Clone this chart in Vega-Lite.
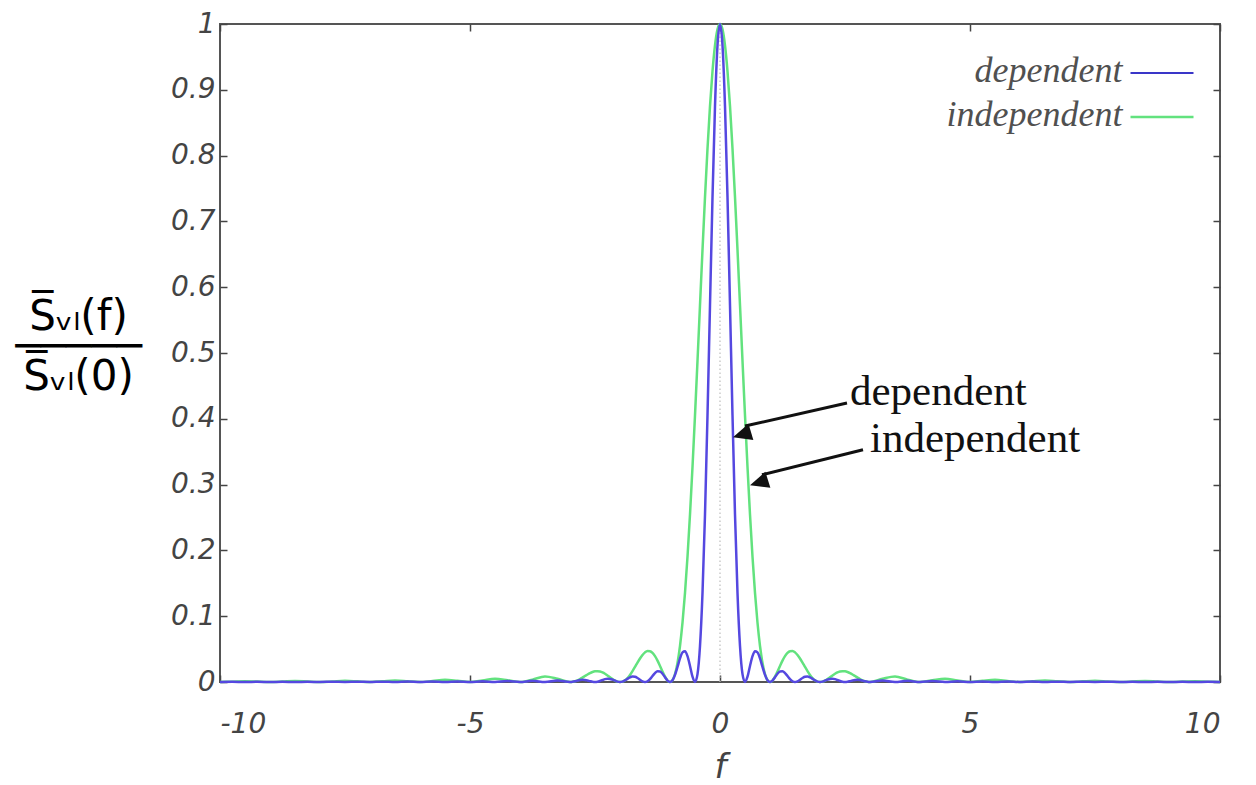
{
  "$schema": "https://vega.github.io/schema/vega-lite/v6.json",
  "width": 1000,
  "height": 658,
  "autosize": {"type": "none"},
  "padding": {"left": 220, "top": 24, "right": 36, "bottom": 103},
  "background": "white",
  "config": {
    "view": {"stroke": "#555", "strokeWidth": 2},
    "axis": {
      "domain": false,
      "grid": false,
      "tickColor": "#444",
      "tickWidth": 1.5,
      "labelFont": "DejaVu Sans",
      "labelFontStyle": "italic",
      "labelFontSize": 28,
      "labelColor": "#444"
    }
  },
  "datasets": {
    "curves": [
      {"f": -10, "dependent": 0, "independent": 0},
      {"f": -9.75, "dependent": 0.00027, "independent": 0.00053},
      {"f": -9.5, "dependent": 0, "independent": 0.00112},
      {"f": -9.25, "dependent": 0.0003, "independent": 0.00059},
      {"f": -9, "dependent": 0, "independent": 0},
      {"f": -8.75, "dependent": 0.00033, "independent": 0.00066},
      {"f": -8.5, "dependent": 0, "independent": 0.0014},
      {"f": -8.25, "dependent": 0.00037, "independent": 0.00074},
      {"f": -8, "dependent": 0, "independent": 0},
      {"f": -7.75, "dependent": 0.00042, "independent": 0.00084},
      {"f": -7.5, "dependent": 0, "independent": 0.0018},
      {"f": -7.25, "dependent": 0.00048, "independent": 0.00096},
      {"f": -7, "dependent": 0, "independent": 0},
      {"f": -6.75, "dependent": 0.00056, "independent": 0.00111},
      {"f": -6.5, "dependent": 0, "independent": 0.0024},
      {"f": -6.25, "dependent": 0.00065, "independent": 0.0013},
      {"f": -6, "dependent": 0, "independent": 0},
      {"f": -5.75, "dependent": 0.00077, "independent": 0.00153},
      {"f": -5.5, "dependent": 0, "independent": 0.00335},
      {"f": -5.25, "dependent": 0.00092, "independent": 0.00184},
      {"f": -5, "dependent": 0, "independent": 0},
      {"f": -4.75, "dependent": 0.00112, "independent": 0.00225},
      {"f": -4.5, "dependent": 0, "independent": 0.005},
      {"f": -4.25, "dependent": 0.0014, "independent": 0.0028},
      {"f": -4, "dependent": 0, "independent": 0},
      {"f": -3.75, "dependent": 0.0018, "independent": 0.0036},
      {"f": -3.5, "dependent": 0, "independent": 0.00827},
      {"f": -3.25, "dependent": 0.0024, "independent": 0.0048},
      {"f": -3, "dependent": 0, "independent": 0},
      {"f": -2.95, "dependent": 0.00028, "independent": 0.00028},
      {"f": -2.9, "dependent": 0.00104, "independent": 0.00115},
      {"f": -2.85, "dependent": 0.00204, "independent": 0.00257},
      {"f": -2.8, "dependent": 0.00292, "independent": 0.00446},
      {"f": -2.75, "dependent": 0.00335, "independent": 0.0067},
      {"f": -2.7, "dependent": 0.00314, "independent": 0.0091},
      {"f": -2.65, "dependent": 0.00236, "independent": 0.01145},
      {"f": -2.6, "dependent": 0.00129, "independent": 0.01356},
      {"f": -2.55, "dependent": 0.00037, "independent": 0.0152},
      {"f": -2.5, "dependent": 0, "independent": 0.01621},
      {"f": -2.45, "dependent": 0.0004, "independent": 0.01647},
      {"f": -2.4, "dependent": 0.00152, "independent": 0.01591},
      {"f": -2.35, "dependent": 0.003, "independent": 0.01457},
      {"f": -2.3, "dependent": 0.00433, "independent": 0.01254},
      {"f": -2.25, "dependent": 0.005, "independent": 0.01001},
      {"f": -2.2, "dependent": 0.00473, "independent": 0.00723},
      {"f": -2.15, "dependent": 0.00359, "independent": 0.00452},
      {"f": -2.1, "dependent": 0.00198, "independent": 0.00219},
      {"f": -2.05, "dependent": 0.00058, "independent": 0.00059},
      {"f": -2, "dependent": 0, "independent": 0},
      {"f": -1.95, "dependent": 0.00064, "independent": 0.00065},
      {"f": -1.9, "dependent": 0.00242, "independent": 0.00268},
      {"f": -1.85, "dependent": 0.00484, "independent": 0.0061},
      {"f": -1.8, "dependent": 0.00707, "independent": 0.0108},
      {"f": -1.75, "dependent": 0.00827, "independent": 0.01654},
      {"f": -1.7, "dependent": 0.00793, "independent": 0.02295},
      {"f": -1.65, "dependent": 0.00609, "independent": 0.02955},
      {"f": -1.6, "dependent": 0.00342, "independent": 0.0358},
      {"f": -1.55, "dependent": 0.00101, "independent": 0.04114},
      {"f": -1.5, "dependent": 0, "independent": 0.04503},
      {"f": -1.45, "dependent": 0.00115, "independent": 0.04701},
      {"f": -1.4, "dependent": 0.00446, "independent": 0.04676},
      {"f": -1.35, "dependent": 0.0091, "independent": 0.04414},
      {"f": -1.3, "dependent": 0.01356, "independent": 0.03924},
      {"f": -1.25, "dependent": 0.01621, "independent": 0.03242},
      {"f": -1.2, "dependent": 0.01591, "independent": 0.02431},
      {"f": -1.15, "dependent": 0.01254, "independent": 0.01579},
      {"f": -1.1, "dependent": 0.00723, "independent": 0.008},
      {"f": -1.05, "dependent": 0.00219, "independent": 0.00225},
      {"f": -1, "dependent": 0, "independent": 0},
      {"f": -0.95, "dependent": 0.00268, "independent": 0.00275},
      {"f": -0.9, "dependent": 0.0108, "independent": 0.01194},
      {"f": -0.85, "dependent": 0.02295, "independent": 0.0289},
      {"f": -0.8, "dependent": 0.0358, "independent": 0.0547},
      {"f": -0.75, "dependent": 0.04503, "independent": 0.09006},
      {"f": -0.7, "dependent": 0.04676, "independent": 0.13534},
      {"f": -0.65, "dependent": 0.03924, "independent": 0.19039},
      {"f": -0.6, "dependent": 0.02431, "independent": 0.25457},
      {"f": -0.55, "dependent": 0.008, "independent": 0.32675},
      {"f": -0.5, "dependent": 0, "independent": 0.40528},
      {"f": -0.45, "dependent": 0.01194, "independent": 0.48811},
      {"f": -0.4, "dependent": 0.0547, "independent": 0.57279},
      {"f": -0.35, "dependent": 0.13534, "independent": 0.65664},
      {"f": -0.3, "dependent": 0.25457, "independent": 0.73684},
      {"f": -0.25, "dependent": 0.40528, "independent": 0.81057},
      {"f": -0.2, "dependent": 0.57279, "independent": 0.87514},
      {"f": -0.15, "dependent": 0.73684, "independent": 0.92814},
      {"f": -0.1, "dependent": 0.87514, "independent": 0.96753},
      {"f": -0.05, "dependent": 0.96753, "independent": 0.99181},
      {"f": 0, "dependent": 1, "independent": 1},
      {"f": 0.05, "dependent": 0.96753, "independent": 0.99181},
      {"f": 0.1, "dependent": 0.87514, "independent": 0.96753},
      {"f": 0.15, "dependent": 0.73684, "independent": 0.92814},
      {"f": 0.2, "dependent": 0.57279, "independent": 0.87514},
      {"f": 0.25, "dependent": 0.40528, "independent": 0.81057},
      {"f": 0.3, "dependent": 0.25457, "independent": 0.73684},
      {"f": 0.35, "dependent": 0.13534, "independent": 0.65664},
      {"f": 0.4, "dependent": 0.0547, "independent": 0.57279},
      {"f": 0.45, "dependent": 0.01194, "independent": 0.48811},
      {"f": 0.5, "dependent": 0, "independent": 0.40528},
      {"f": 0.55, "dependent": 0.008, "independent": 0.32675},
      {"f": 0.6, "dependent": 0.02431, "independent": 0.25457},
      {"f": 0.65, "dependent": 0.03924, "independent": 0.19039},
      {"f": 0.7, "dependent": 0.04676, "independent": 0.13534},
      {"f": 0.75, "dependent": 0.04503, "independent": 0.09006},
      {"f": 0.8, "dependent": 0.0358, "independent": 0.0547},
      {"f": 0.85, "dependent": 0.02295, "independent": 0.0289},
      {"f": 0.9, "dependent": 0.0108, "independent": 0.01194},
      {"f": 0.95, "dependent": 0.00268, "independent": 0.00275},
      {"f": 1, "dependent": 0, "independent": 0},
      {"f": 1.05, "dependent": 0.00219, "independent": 0.00225},
      {"f": 1.1, "dependent": 0.00723, "independent": 0.008},
      {"f": 1.15, "dependent": 0.01254, "independent": 0.01579},
      {"f": 1.2, "dependent": 0.01591, "independent": 0.02431},
      {"f": 1.25, "dependent": 0.01621, "independent": 0.03242},
      {"f": 1.3, "dependent": 0.01356, "independent": 0.03924},
      {"f": 1.35, "dependent": 0.0091, "independent": 0.04414},
      {"f": 1.4, "dependent": 0.00446, "independent": 0.04676},
      {"f": 1.45, "dependent": 0.00115, "independent": 0.04701},
      {"f": 1.5, "dependent": 0, "independent": 0.04503},
      {"f": 1.55, "dependent": 0.00101, "independent": 0.04114},
      {"f": 1.6, "dependent": 0.00342, "independent": 0.0358},
      {"f": 1.65, "dependent": 0.00609, "independent": 0.02955},
      {"f": 1.7, "dependent": 0.00793, "independent": 0.02295},
      {"f": 1.75, "dependent": 0.00827, "independent": 0.01654},
      {"f": 1.8, "dependent": 0.00707, "independent": 0.0108},
      {"f": 1.85, "dependent": 0.00484, "independent": 0.0061},
      {"f": 1.9, "dependent": 0.00242, "independent": 0.00268},
      {"f": 1.95, "dependent": 0.00064, "independent": 0.00065},
      {"f": 2, "dependent": 0, "independent": 0},
      {"f": 2.05, "dependent": 0.00058, "independent": 0.00059},
      {"f": 2.1, "dependent": 0.00198, "independent": 0.00219},
      {"f": 2.15, "dependent": 0.00359, "independent": 0.00452},
      {"f": 2.2, "dependent": 0.00473, "independent": 0.00723},
      {"f": 2.25, "dependent": 0.005, "independent": 0.01001},
      {"f": 2.3, "dependent": 0.00433, "independent": 0.01254},
      {"f": 2.35, "dependent": 0.003, "independent": 0.01457},
      {"f": 2.4, "dependent": 0.00152, "independent": 0.01591},
      {"f": 2.45, "dependent": 0.0004, "independent": 0.01647},
      {"f": 2.5, "dependent": 0, "independent": 0.01621},
      {"f": 2.55, "dependent": 0.00037, "independent": 0.0152},
      {"f": 2.6, "dependent": 0.00129, "independent": 0.01356},
      {"f": 2.65, "dependent": 0.00236, "independent": 0.01145},
      {"f": 2.7, "dependent": 0.00314, "independent": 0.0091},
      {"f": 2.75, "dependent": 0.00335, "independent": 0.0067},
      {"f": 2.8, "dependent": 0.00292, "independent": 0.00446},
      {"f": 2.85, "dependent": 0.00204, "independent": 0.00257},
      {"f": 2.9, "dependent": 0.00104, "independent": 0.00115},
      {"f": 2.95, "dependent": 0.00028, "independent": 0.00028},
      {"f": 3, "dependent": 0, "independent": 0},
      {"f": 3.25, "dependent": 0.0024, "independent": 0.0048},
      {"f": 3.5, "dependent": 0, "independent": 0.00827},
      {"f": 3.75, "dependent": 0.0018, "independent": 0.0036},
      {"f": 4, "dependent": 0, "independent": 0},
      {"f": 4.25, "dependent": 0.0014, "independent": 0.0028},
      {"f": 4.5, "dependent": 0, "independent": 0.005},
      {"f": 4.75, "dependent": 0.00112, "independent": 0.00225},
      {"f": 5, "dependent": 0, "independent": 0},
      {"f": 5.25, "dependent": 0.00092, "independent": 0.00184},
      {"f": 5.5, "dependent": 0, "independent": 0.00335},
      {"f": 5.75, "dependent": 0.00077, "independent": 0.00153},
      {"f": 6, "dependent": 0, "independent": 0},
      {"f": 6.25, "dependent": 0.00065, "independent": 0.0013},
      {"f": 6.5, "dependent": 0, "independent": 0.0024},
      {"f": 6.75, "dependent": 0.00056, "independent": 0.00111},
      {"f": 7, "dependent": 0, "independent": 0},
      {"f": 7.25, "dependent": 0.00048, "independent": 0.00096},
      {"f": 7.5, "dependent": 0, "independent": 0.0018},
      {"f": 7.75, "dependent": 0.00042, "independent": 0.00084},
      {"f": 8, "dependent": 0, "independent": 0},
      {"f": 8.25, "dependent": 0.00037, "independent": 0.00074},
      {"f": 8.5, "dependent": 0, "independent": 0.0014},
      {"f": 8.75, "dependent": 0.00033, "independent": 0.00066},
      {"f": 9, "dependent": 0, "independent": 0},
      {"f": 9.25, "dependent": 0.0003, "independent": 0.00059},
      {"f": 9.5, "dependent": 0, "independent": 0.00112},
      {"f": 9.75, "dependent": 0.00027, "independent": 0.00053},
      {"f": 10, "dependent": 0, "independent": 0}
    ]
  },
  "resolve": {"axis": {"x": "independent", "y": "independent"}},
  "layer": [
    {
      "data": {"values": [{}]},
      "mark": {"type": "rule", "color": "#bdbdbd", "strokeDash": [1.5, 2.5], "strokeWidth": 1.2},
      "encoding": {
        "x": {"datum": 0, "type": "quantitative", "axis": null},
        "y": {"datum": 0, "type": "quantitative", "axis": null},
        "y2": {"datum": 1}
      }
    },
    {
      "data": {"name": "curves"},
      "transform": [{"fold": ["independent", "dependent"], "as": ["series", "value"]}],
      "mark": {"type": "line", "interpolate": "monotone", "strokeWidth": 2.5},
      "encoding": {
        "x": {
          "field": "f", "type": "quantitative",
          "scale": {"domain": [-10, 10], "nice": false, "zero": false},
          "axis": {"orient": "bottom", "values": [-10, -5, 0, 5, 10], "labelExpr": "'' + datum.value", "tickSize": -7, "labelPadding": 35, "labelDx": 6,
                   "title": "f", "titleFont": "DejaVu Sans", "titleFontStyle": "italic", "titleFontWeight": "normal", "titleFontSize": 34, "titleColor": "#444", "titlePadding": 12}
        },
        "y": {
          "field": "value", "type": "quantitative",
          "scale": {"domain": [0, 1], "nice": false, "zero": false},
          "axis": {"orient": "left", "values": [0, 0.1, 0.2, 0.3, 0.4, 0.5, 0.6, 0.7, 0.8, 0.9, 1], "format": "~g", "tickSize": -7, "labelPadding": 12,
                   "title": ["S̅ᵥₗ(f)", "─────", "S̅ᵥₗ(0)"], "titleAngle": 0, "titleAlign": "center", "titleBaseline": "middle",
                   "titleX": -142, "titleY": 292, "titleFont": "DejaVu Sans", "titleFontSize": 42, "titleFontWeight": "normal", "titleColor": "#000", "titleLineHeight": 30}
        },
        "color": {"field": "series", "type": "nominal", "scale": {"domain": ["dependent", "independent"], "range": ["#5548e0", "#62e27e"]}, "legend": null}
      }
    },
    {
      "data": {"name": "curves"},
      "mark": {"type": "point", "opacity": 0},
      "encoding": {
        "x": {"field": "f", "type": "quantitative", "axis": {"orient": "top", "values": [-10, -5, 0, 5, 10], "tickSize": -7, "labels": false, "title": null}},
        "y": {"field": "independent", "type": "quantitative", "axis": {"orient": "right", "values": [0, 0.1, 0.2, 0.3, 0.4, 0.5, 0.6, 0.7, 0.8, 0.9, 1], "tickSize": -7, "labels": false, "title": null}}
      }
    },
    {
      "data": {"values": [{}]},
      "mark": {"type": "rule", "color": "#3a36c8", "strokeWidth": 2},
      "encoding": {"x": {"datum": 8.21, "type": "quantitative", "axis": null}, "x2": {"datum": 9.47}, "y": {"datum": 0.9255, "type": "quantitative", "axis": null}}
    },
    {
      "data": {"values": [{}]},
      "mark": {"type": "rule", "color": "#62e27e", "strokeWidth": 2.5},
      "encoding": {"x": {"datum": 8.21, "type": "quantitative", "axis": null}, "x2": {"datum": 9.47}, "y": {"datum": 0.8587, "type": "quantitative", "axis": null}}
    },
    {
      "data": {"values": [{}]},
      "mark": {"type": "text", "text": "dependent", "align": "right", "baseline": "alphabetic", "font": "Liberation Serif", "fontStyle": "italic", "fontSize": 36, "color": "#505050"},
      "encoding": {"x": {"datum": 8.05, "type": "quantitative", "axis": null}, "y": {"datum": 0.912, "type": "quantitative", "axis": null}}
    },
    {
      "data": {"values": [{}]},
      "mark": {"type": "text", "text": "independent", "align": "right", "baseline": "alphabetic", "font": "Liberation Serif", "fontStyle": "italic", "fontSize": 36, "color": "#505050"},
      "encoding": {"x": {"datum": 8.05, "type": "quantitative", "axis": null}, "y": {"datum": 0.845, "type": "quantitative", "axis": null}}
    },
    {
      "data": {"values": [{}]},
      "mark": {"type": "rule", "color": "#111", "strokeWidth": 3},
      "encoding": {"x": {"datum": 2.54, "type": "quantitative", "axis": null}, "y": {"datum": 0.424, "type": "quantitative", "axis": null}, "x2": {"datum": 0.5}, "y2": {"datum": 0.389}}
    },
    {
      "data": {"values": [{}]},
      "mark": {"type": "rule", "color": "#111", "strokeWidth": 3},
      "encoding": {"x": {"datum": 2.86, "type": "quantitative", "axis": null}, "y": {"datum": 0.353, "type": "quantitative", "axis": null}, "x2": {"datum": 0.84}, "y2": {"datum": 0.315}}
    },
    {
      "data": {"values": [{}]},
      "mark": {"type": "point", "shape": "M0,0L-0.45,1L0.45,1Z", "filled": true, "color": "#111", "opacity": 1, "size": 1400, "angle": 253.4},
      "encoding": {"x": {"datum": 0.26, "type": "quantitative", "axis": null}, "y": {"datum": 0.372, "type": "quantitative", "axis": null}}
    },
    {
      "data": {"values": [{}]},
      "mark": {"type": "point", "shape": "M0,0L-0.45,1L0.45,1Z", "filled": true, "color": "#111", "opacity": 1, "size": 1400, "angle": 252.8},
      "encoding": {"x": {"datum": 0.6, "type": "quantitative", "axis": null}, "y": {"datum": 0.299, "type": "quantitative", "axis": null}}
    },
    {
      "data": {"values": [{}]},
      "mark": {"type": "text", "text": "dependent", "align": "left", "baseline": "alphabetic", "font": "Liberation Serif", "fontSize": 43, "color": "#111"},
      "encoding": {"x": {"datum": 2.6, "type": "quantitative", "axis": null}, "y": {"datum": 0.421, "type": "quantitative", "axis": null}}
    },
    {
      "data": {"values": [{}]},
      "mark": {"type": "text", "text": "independent", "align": "left", "baseline": "alphabetic", "font": "Liberation Serif", "fontSize": 43, "color": "#111"},
      "encoding": {"x": {"datum": 3.0, "type": "quantitative", "axis": null}, "y": {"datum": 0.3495, "type": "quantitative", "axis": null}}
    }
  ]
}
